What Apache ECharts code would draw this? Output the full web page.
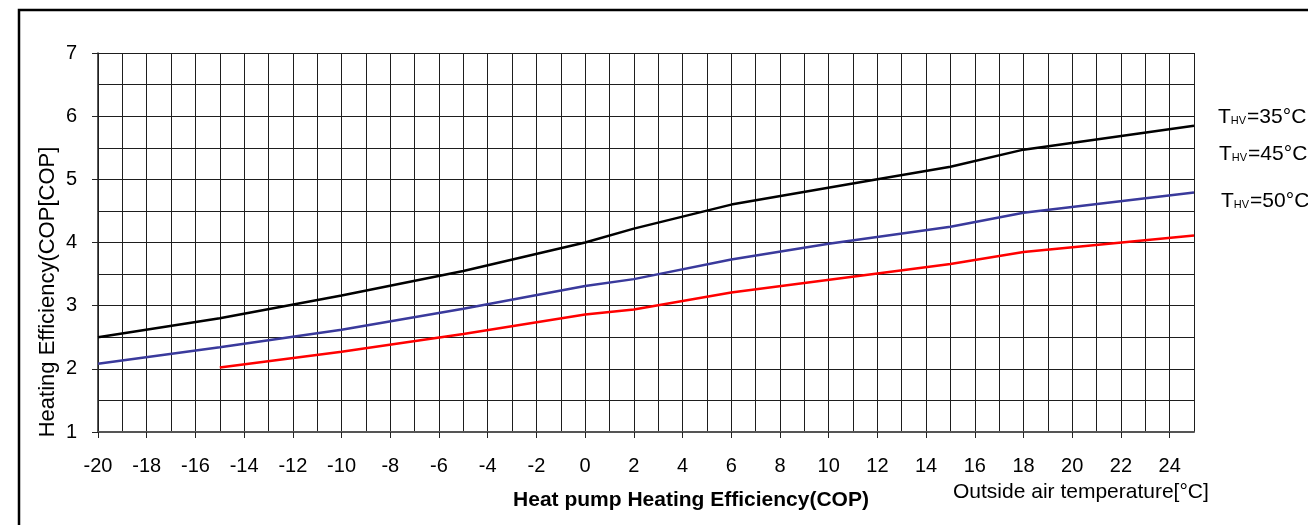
<!DOCTYPE html>
<html>
<head>
<meta charset="utf-8">
<script src="https://cdn.jsdelivr.net/npm/echarts@6/dist/echarts.min.js"></script>
<style>
html,body{margin:0;padding:0;background:#fff;}
#c{width:1308px;height:525px;}
</style>
</head>
<body>
<div id="c"></div>
<script>
// Data
const temps35 = [-20, -15, -10, -5, 0, 2, 6, 12, 15, 18, 25];
const cop35   = [2.50, 2.80, 3.16, 3.55, 4.00, 4.22, 4.60, 5.00, 5.20, 5.47, 5.85];
const temps45 = [-20, -15, -10, -5, 0, 2, 6, 10, 15, 18, 25];
const cop45   = [2.08, 2.34, 2.62, 2.95, 3.31, 3.42, 3.73, 3.98, 4.25, 4.47, 4.79];
const temps50 = [-15, -10, -5, 0, 2, 6, 12, 15, 18, 25];
const cop50   = [2.02, 2.27, 2.55, 2.86, 2.94, 3.21, 3.51, 3.66, 3.85, 4.11];
const xTickLabels = [-20, -18, -16, -14, -12, -10, -8, -6, -4, -2, 0, 2, 4, 6, 8, 10, 12, 14, 16, 18, 20, 22, 24];
const yTickLabels = [1, 2, 3, 4, 5, 6, 7];
const seriesNames = ['35', '45', '50'];

const pairs = (xs, ys) => xs.map((x, i) => [x, ys[i]]);
const font = 'Liberation Sans, Arial, sans-serif';
const gridColor = '#1e1e1e';

const chart = echarts.init(document.getElementById('c'), null, {renderer: 'canvas'});
const legendY = [117, 154, 201];
const legendX = [1218, 1219, 1221];

chart.setOption({
  animation: false,
  backgroundColor: '#fff',
  grid: {left: 98, right: 114, top: 53, bottom: 93, containLabel: false},
  xAxis: [{
    type: 'value', min: -20, max: 25, interval: 1,
    axisLine: {show: true, onZero: false, lineStyle: {color: '#555', width: 2}},
    axisTick: {show: true, length: 6, customValues: xTickLabels, lineStyle: {color: '#222'}},
    axisLabel: {customValues: xTickLabels, margin: 24, color: '#000', fontSize: 20, fontFamily: font},
    splitLine: {show: false}
  }, {
    type: 'value', min: -20, max: 25, interval: 1, position: 'bottom',
    axisLine: {show: false}, axisTick: {show: false}, axisLabel: {show: false},
    splitLine: {show: true, lineStyle: {color: gridColor, width: 1}}
  }],
  yAxis: [{
    type: 'value', min: 1, max: 7, interval: 0.5,
    axisLine: {show: true, onZero: false, lineStyle: {color: '#222', width: 1.5}},
    axisTick: {show: true, length: 6, customValues: yTickLabels, lineStyle: {color: '#222'}},
    axisLabel: {customValues: yTickLabels, margin: 21, color: '#000', fontSize: 20, fontFamily: font},
    splitLine: {show: false}
  }, {
    type: 'value', min: 1, max: 7, interval: 0.5, position: 'left',
    axisLine: {show: false}, axisTick: {show: false}, axisLabel: {show: false},
    splitLine: {show: true, lineStyle: {color: gridColor, width: 1}}
  }],
  series: [
    {type: 'line', name: seriesNames[0], data: pairs(temps35, cop35), showSymbol: false, lineStyle: {color: '#000', width: 2.5}, z: 5},
    {type: 'line', name: seriesNames[1], data: pairs(temps45, cop45), showSymbol: false, lineStyle: {color: '#3a3a9c', width: 2.5}, z: 5},
    {type: 'line', name: seriesNames[2], data: pairs(temps50, cop50), showSymbol: false, lineStyle: {color: '#ff0000', width: 2.5}, z: 5}
  ],
  graphic: [
    {type: 'rect', shape: {x: 19, y: 10, width: 1400, height: 600}, style: {fill: 'none', stroke: '#000', lineWidth: 2.5}, z: 100, silent: true},
    {type: 'text', x: 48, y: 292, rotation: Math.PI / 2,
      style: {text: 'Heating Efficiency(COP[COP]', fill: '#000', font: '22px ' + font, align: 'center', verticalAlign: 'middle'}},
    {type: 'text', x: 691, y: 500,
      style: {text: 'Heat pump Heating Efficiency(COP)', fill: '#000', font: 'bold 21px ' + font, align: 'center', verticalAlign: 'middle'}},
    {type: 'text', x: 953, y: 492,
      style: {text: 'Outside air temperature[°C]', fill: '#000', font: '21px ' + font, align: 'left', verticalAlign: 'middle'}}
  ].concat(seriesNames.map((n, i) => ({
    type: 'text', x: legendX[i], y: legendY[i],
    style: {
      text: '{a|T}{b|HV}{a|=' + n + '°C}',
      verticalAlign: 'middle', align: 'left',
      rich: {
        a: {fontSize: 21, fontFamily: font, fill: '#000', verticalAlign: 'bottom'},
        b: {fontSize: 11, fontFamily: font, fill: '#000', verticalAlign: 'bottom', padding: [0, 1, 1, 0]}
      }
    }
  })))
});
</script>
</body>
</html>
